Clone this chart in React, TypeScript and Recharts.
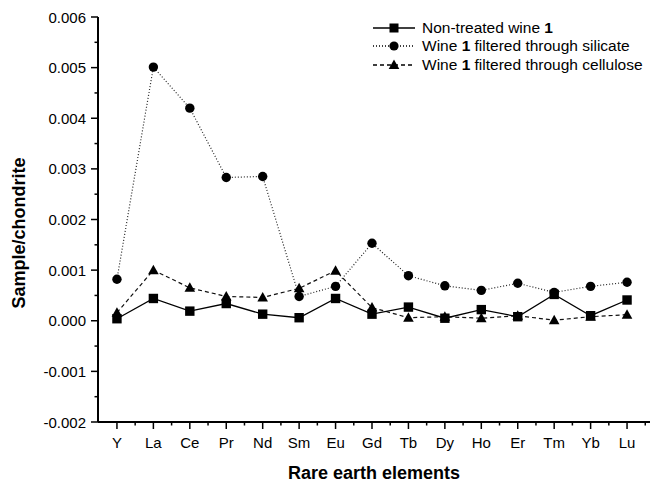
import React from 'react';
import { LineChart, Line, XAxis, YAxis } from 'recharts';

const elements = ['Y', 'La', 'Ce', 'Pr', 'Nd', 'Sm', 'Eu', 'Gd', 'Tb', 'Dy', 'Ho', 'Er', 'Tm', 'Yb', 'Lu'];
const nonTreated = [0.00004, 0.00044, 0.00019, 0.00034, 0.00013, 0.00006, 0.00044, 0.00013, 0.00027, 0.00005, 0.00022, 0.00008, 0.00052, 0.0001, 0.00041];
const silicate = [0.00082, 0.00501, 0.0042, 0.00283, 0.00285, 0.00048, 0.00068, 0.00153, 0.00089, 0.00069, 0.0006, 0.00074, 0.00056, 0.00068, 0.00076];
const cellulose = [0.00016, 0.001, 0.00065, 0.00048, 0.00046, 0.00064, 0.00099, 0.00026, 0.00006, 0.00008, 0.00005, 0.0001, 0.00001, 0.00008, 0.00012];
const seriesNames = ['Non-treated wine 1', 'Wine 1 filtered through silicate', 'Wine 1 filtered through cellulose'];
const yTicks = [-0.002, -0.0015, -0.001, -0.0005, 0, 0.0005, 0.001, 0.0015, 0.002, 0.0025, 0.003, 0.0035, 0.004, 0.0045, 0.005, 0.0055, 0.006];
const xTicks = [0, 0.5, 1, 1.5, 2, 2.5, 3, 3.5, 4, 4.5, 5, 5.5, 6, 6.5, 7, 7.5, 8, 8.5, 9, 9.5, 10, 10.5, 11, 11.5, 12, 12.5, 13, 13.5, 14, 14.5];
const yTitle = 'Sample/chondrite';
const xTitle = 'Rare earth elements';

const data = elements.map((el, i) => ({
  idx: i,
  el,
  nonTreated: nonTreated[i],
  silicate: silicate[i],
  cellulose: cellulose[i],
}));

const FONT = 'Arial, "Liberation Sans", Helvetica, sans-serif';

const YTick = (props: any) => {
  const { x, y, payload } = props;
  const v = payload.value;
  const major = Math.abs(v * 1000 - Math.round(v * 1000)) < 1e-6;
  return (
    <g>
      <line x1={x - (major ? 7 : 3.5)} x2={x} y1={y} y2={y} stroke="#000" strokeWidth={1.5} />
      {major && (
        <text x={x - 12} y={y} textAnchor="end" dominantBaseline="central" fontSize={15} fontFamily={FONT} fill="#000">
          {v.toFixed(3)}
        </text>
      )}
    </g>
  );
};

const XTick = (props: any) => {
  const { x, y, payload } = props;
  const v = payload.value;
  const major = Number.isInteger(v);
  return (
    <g>
      <line x1={x} x2={x} y1={y} y2={y + (major ? 7 : 3.5)} stroke="#000" strokeWidth={1.5} />
      {major && (
        <text x={x} y={y + 20} textAnchor="middle" dominantBaseline="central" fontSize={15} fontFamily={FONT} fill="#000">
          {elements[v]}
        </text>
      )}
    </g>
  );
};

const SquareDot = (p: any) => (
  <rect key={`s${p.index}`} x={p.cx - 4.7} y={p.cy - 4.7} width={9.4} height={9.4} fill="#000" />
);
const CircleDot = (p: any) => <circle key={`c${p.index}`} cx={p.cx} cy={p.cy} r={4.7} fill="#000" />;
const TriDot = (p: any) => (
  <path key={`t${p.index}`} d={`M${p.cx},${p.cy - 5.5} L${p.cx + 5.3},${p.cy + 4} L${p.cx - 5.3},${p.cy + 4} Z`} fill="#000" />
);

const styles = [
  { dash: undefined as string | undefined, marker: 'square' },
  { dash: '1 2', marker: 'circle' },
  { dash: '4 3', marker: 'triangle' },
];

const renderName = (name: string) =>
  name.split(/(\b1\b)/).map((part, i) =>
    part === '1' ? <b key={i}>1</b> : <span key={i}>{part}</span>
  );

const LegendBox = () => (
  <div style={{ position: 'absolute', left: 372, top: 19, fontFamily: FONT, fontSize: 15.5, color: '#000' }}>
    {seriesNames.map((name, i) => (
      <div key={name} style={{ display: 'flex', alignItems: 'center', height: 18.3 }}>
        <svg width={46} height={18} style={{ display: 'block' }}>
          <line x1={1} x2={43} y1={9} y2={9} stroke="#000" strokeWidth={1.3} strokeDasharray={styles[i].dash} />
          {styles[i].marker === 'square' && <rect x={17.5} y={4.5} width={9} height={9} fill="#000" />}
          {styles[i].marker === 'circle' && <circle cx={22} cy={9} r={4.6} fill="#000" />}
          {styles[i].marker === 'triangle' && <path d="M22,3.5 L27.3,13 L16.7,13 Z" fill="#000" />}
        </svg>
        <span style={{ marginLeft: 4, whiteSpace: 'nowrap' }}>{renderName(name)}</span>
      </div>
    ))}
  </div>
);

export default function App() {
  return (
    <div style={{ position: 'absolute', left: 0, top: 0, width: 652, height: 485, background: '#fff' }}>
      <LineChart width={652} height={485} data={data} margin={{ top: 17, right: 2, bottom: 0, left: 0 }}>
        <XAxis
          dataKey="idx"
          type="number"
          domain={[-0.52, 14.63]}
          ticks={xTicks}
          interval={0}
          tickSize={0}
          tickMargin={0}
          tickLine={false}
          tick={<XTick />}
          height={63}
          axisLine={{ stroke: '#000', strokeWidth: 2 }}
          allowDataOverflow
          label={(lp: any) => {
            const vb = lp.viewBox || { x: 98, y: 422, width: 552, height: 63 };
            return (
              <text x={vb.x + vb.width / 2} y={vb.y + 57} textAnchor="middle" fontSize={18} fontWeight="bold" fontFamily={FONT} fill="#000">
                {xTitle}
              </text>
            );
          }}
        />
        <YAxis
          type="number"
          domain={[-0.002, 0.006]}
          ticks={yTicks}
          interval={0}
          tickSize={0}
          tickMargin={0}
          tickLine={false}
          tick={<YTick />}
          width={98}
          axisLine={{ stroke: '#000', strokeWidth: 2 }}
          allowDataOverflow
          label={(lp: any) => (
            <text x={25} y={233} transform="rotate(-90 25 233)" textAnchor="middle" fontSize={18} fontWeight="bold" fontFamily={FONT} fill="#000">
              {yTitle}
            </text>
          )}
        />
        <Line dataKey="silicate" stroke="#222" strokeWidth={1.2} strokeDasharray="1 2" dot={CircleDot} isAnimationActive={false} />
        <Line dataKey="cellulose" stroke="#111" strokeWidth={1.2} strokeDasharray="4 3" dot={TriDot} isAnimationActive={false} />
        <Line dataKey="nonTreated" stroke="#000" strokeWidth={1.3} dot={SquareDot} isAnimationActive={false} />
      </LineChart>
      <LegendBox />
    </div>
  );
}
